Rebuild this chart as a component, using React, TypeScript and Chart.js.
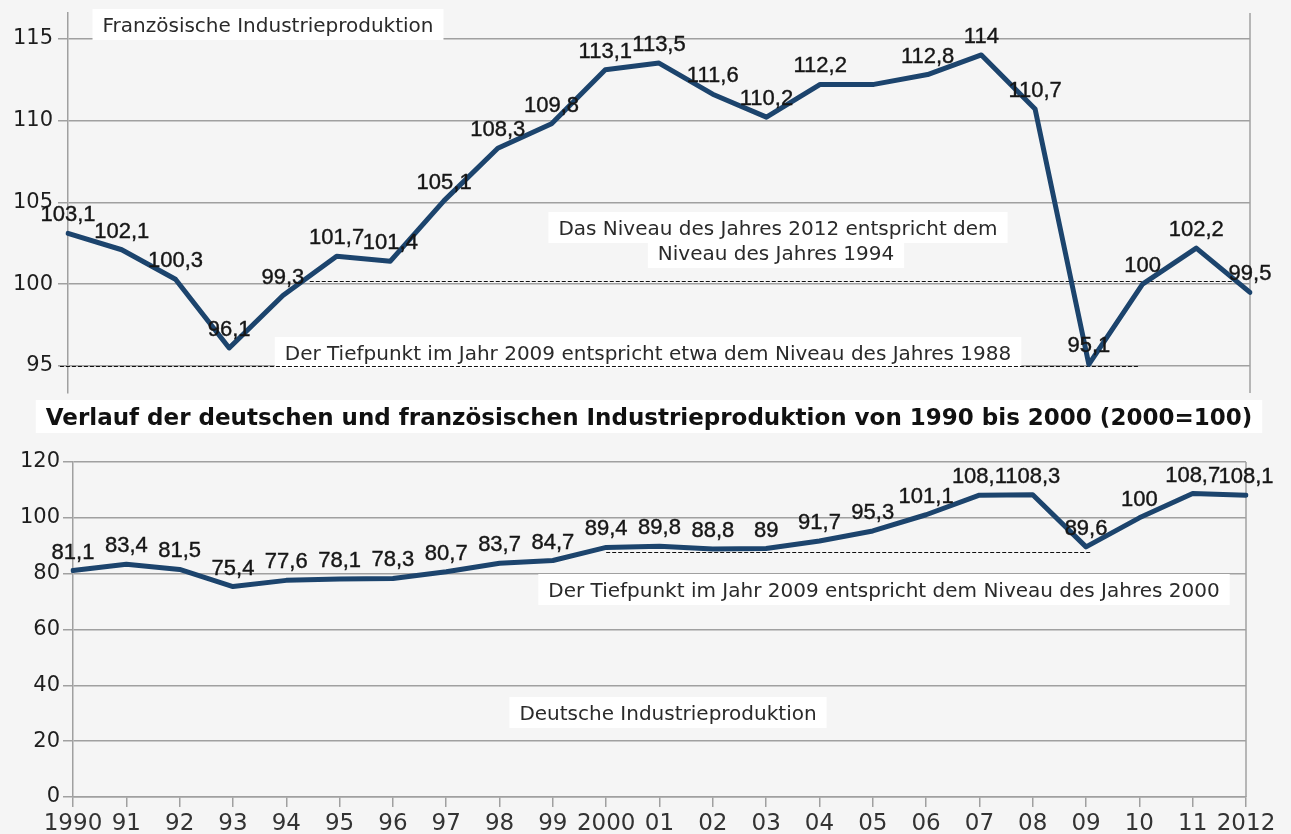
import React, { useEffect, useRef } from 'react';
import { Chart, registerables } from 'chart.js';

Chart.register(...registerables);

// ---------- data ----------
const years = ['1990', '91', '92', '93', '94', '95', '96', '97', '98', '99', '2000', '01', '02', '03', '04', '05', '06', '07', '08', '09', '10', '11', '2012'];
const frenchProduction = [103.1, 102.1, 100.3, 96.1, 99.3, 101.7, 101.4, 105.1, 108.3, 109.8, 113.1, 113.5, 111.6, 110.2, 112.2, 112.2, 112.8, 114, 110.7, 95.1, 100, 102.2, 99.5];
const frenchUnlabeledYears = ['05'];
const germanProduction = [81.1, 83.4, 81.5, 75.4, 77.6, 78.1, 78.3, 80.7, 83.7, 84.7, 89.4, 89.8, 88.8, 89, 91.7, 95.3, 101.1, 108.1, 108.3, 89.6, 100, 108.7, 108.1];
const frenchTicks = [95, 100, 105, 110, 115];
const germanTicks = [0, 20, 40, 60, 80, 100, 120];

const chartTitle = 'Verlauf der deutschen und französischen Industrieproduktion von 1990 bis 2000 (2000=100)';
const frenchNotes = [
  'Französische Industrieproduktion',
  'Das Niveau des Jahres 2012 entspricht dem',
  'Niveau des Jahres 1994',
  'Der Tiefpunkt im Jahr 2009 entspricht etwa dem Niveau des Jahres 1988',
];
const germanNotes = [
  'Der Tiefpunkt im Jahr 2009 entspricht dem Niveau des Jahres 2000',
  'Deutsche Industrieproduktion',
];
// reference levels for dashed lines
const frenchLevel1994 = 100.2;
const frenchLevel1988 = 95;
const germanLevel2000 = 87.6;

// ---------- styles ----------
const GRID = '#a0a0a0';
const LINE = '#1c446d';
const TEXT = '#2a2a2a';
const LABEL_FONT = '"Liberation Sans", Arial, sans-serif';
const NOTE_FONT = '"DejaVu Sans", Verdana, sans-serif';

const fmt = (v: number) => String(v).replace('.', ',');

const notesPlugin = {
  id: 'notes',
  beforeDatasetsDraw(chart: any, _a: any, opts: any) {
    const { ctx, chartArea, scales } = chart;
    ctx.save();
    // right border
    ctx.strokeStyle = GRID;
    ctx.lineWidth = 1.5;
    ctx.beginPath();
    ctx.moveTo(chartArea.right, chartArea.top);
    ctx.lineTo(chartArea.right, chartArea.bottom);
    ctx.stroke();
    // text boxes
    for (const n of opts.texts || []) {
      ctx.font = `${n.bold ? 'bold ' : ''}${n.size}px ${NOTE_FONT}`;
      const w = ctx.measureText(n.text).width;
      ctx.fillStyle = '#ffffff';
      ctx.fillRect(n.x - w / 2 - 10, n.y - n.size - 3, w + 20, n.size + 11);
    }
    for (const n of opts.texts || []) {
      ctx.font = `${n.bold ? 'bold ' : ''}${n.size}px ${NOTE_FONT}`;
      ctx.fillStyle = n.color || TEXT;
      ctx.textAlign = 'center';
      ctx.textBaseline = 'alphabetic';
      ctx.fillText(n.text, n.x, n.y);
    }
    // dashed lines
    ctx.strokeStyle = '#111';
    ctx.lineWidth = 1.2;
    ctx.setLineDash([4, 2]);
    for (const d of opts.dashes || []) {
      const y = Math.round(scales.y.getPixelForValue(d.level)) + 0.5;
      ctx.beginPath();
      ctx.moveTo(scales.x.getPixelForValue(d.from), y);
      ctx.lineTo(scales.x.getPixelForValue(d.to), y);
      ctx.stroke();
    }
    ctx.restore();
  },
  afterDatasetsDraw(chart: any, _a: any, opts: any) {
    const { ctx } = chart;
    const meta = chart.getDatasetMeta(0);
    const data = chart.data.datasets[0].data;
    const labels = chart.data.labels;
    ctx.save();
    ctx.font = `22px ${LABEL_FONT}`;
    ctx.fillStyle = '#161616';
    ctx.strokeStyle = '#161616';
    ctx.lineWidth = 0.4;
    ctx.textAlign = 'center';
    ctx.textBaseline = 'alphabetic';
    meta.data.forEach((pt: any, i: number) => {
      if ((opts.skip || []).includes(labels[i])) return;
      const t = fmt(data[i]);
      ctx.fillText(t, pt.x, pt.y - 12);
      ctx.strokeText(t, pt.x, pt.y - 12);
    });
    ctx.restore();
  },
};

function yScale(min: number, max: number, ticks: number[], width: number, pad: number) {
  return {
    min,
    max,
    afterBuildTicks: (s: any) => {
      s.ticks = ticks.map((v) => ({ value: v }));
    },
    afterFit: (s: any) => {
      s.width = width;
      s.paddingTop = 0;
      s.paddingBottom = 0;
    },
    grid: { color: GRID, lineWidth: 1.5, tickLength: 10, tickColor: GRID },
    border: { display: true, color: GRID, width: 1.5 },
    ticks: {
      padding: pad,
      color: '#1e1e1e',
      font: { family: NOTE_FONT, size: 21 },
      callback: (v: any) => String(v),
    },
  };
}

function makeLine(values: number[]) {
  return {
    data: values,
    borderColor: LINE,
    borderWidth: 5,
    pointRadius: 0,
    tension: 0,
    borderJoinStyle: 'round' as const,
    borderCapStyle: 'round' as const,
  };
}

export default function App() {
  const topRef = useRef<HTMLCanvasElement>(null);
  const botRef = useRef<HTMLCanvasElement>(null);

  useEffect(() => {
    const top = new Chart(topRef.current!, {
      type: 'line',
      data: { labels: years, datasets: [makeLine(frenchProduction)] },
      plugins: [notesPlugin],
      options: {
        responsive: false,
        animation: false,
        layout: { padding: { left: 0, top: 13, right: 41, bottom: 7 } },
        plugins: {
          legend: { display: false },
          tooltip: { enabled: false },
          notes: {
            skip: frenchUnlabeledYears,
            texts: [
              { text: frenchNotes[0], x: 268, y: 32, size: 20 },
              { text: frenchNotes[1], x: 778, y: 235, size: 20 },
              { text: frenchNotes[2], x: 776, y: 260, size: 20 },
              { text: frenchNotes[3], x: 648, y: 360, size: 20 },
            ],
            dashes: [
              { level: frenchLevel1994, from: 4.5, to: 21.8 },
              { level: frenchLevel1988, from: -0.15, to: 19.95 },
            ],
          },
        } as any,
        scales: {
          x: { display: false, offset: false },
          y: yScale(93.35, 116.56, frenchTicks, 68, 5) as any,
        },
      },
    });

    const bot = new Chart(botRef.current!, {
      type: 'line',
      data: { labels: years, datasets: [makeLine(germanProduction)] },
      plugins: [notesPlugin],
      options: {
        responsive: false,
        animation: false,
        layout: { padding: { left: 0, top: 62, right: 45, bottom: 0 } },
        plugins: {
          legend: { display: false },
          tooltip: { enabled: false },
          notes: {
            texts: [
              { text: chartTitle, x: 649, y: 25, size: 23, color: '#111', bold: true },
              { text: germanNotes[0], x: 884, y: 197, size: 20 },
              { text: germanNotes[1], x: 668, y: 320, size: 20 },
            ],
            dashes: [{ level: germanLevel2000, from: 10, to: 19.1 }],
          },
        } as any,
        scales: {
          x: {
            offset: false,
            afterFit: (s: any) => {
              s.height = 37;
              s.paddingLeft = 0;
              s.paddingRight = 0;
            },
            grid: { display: true, drawOnChartArea: false, drawTicks: true, tickLength: 10, color: GRID, lineWidth: 1.5 },
            border: { display: true, color: GRID, width: 1.5 },
            ticks: {
              autoSkip: false,
              maxRotation: 0,
              padding: 3,
              color: '#333',
              font: { family: NOTE_FONT, size: 23 },
            },
          },
          y: yScale(0, 120, germanTicks, 73, 3) as any,
        },
      },
    });

    return () => {
      top.destroy();
      bot.destroy();
    };
  }, []);

  return (
    <div style={{ position: 'absolute', left: 0, top: 0, width: 1291, height: 834, background: '#f5f5f5', overflow: 'hidden' }}>
      <canvas ref={topRef} width={1291} height={400} style={{ position: 'absolute', left: 0, top: 0, width: 1291, height: 400 }} />
      <canvas ref={botRef} width={1291} height={434} style={{ position: 'absolute', left: 0, top: 400, width: 1291, height: 434 }} />
    </div>
  );
}
